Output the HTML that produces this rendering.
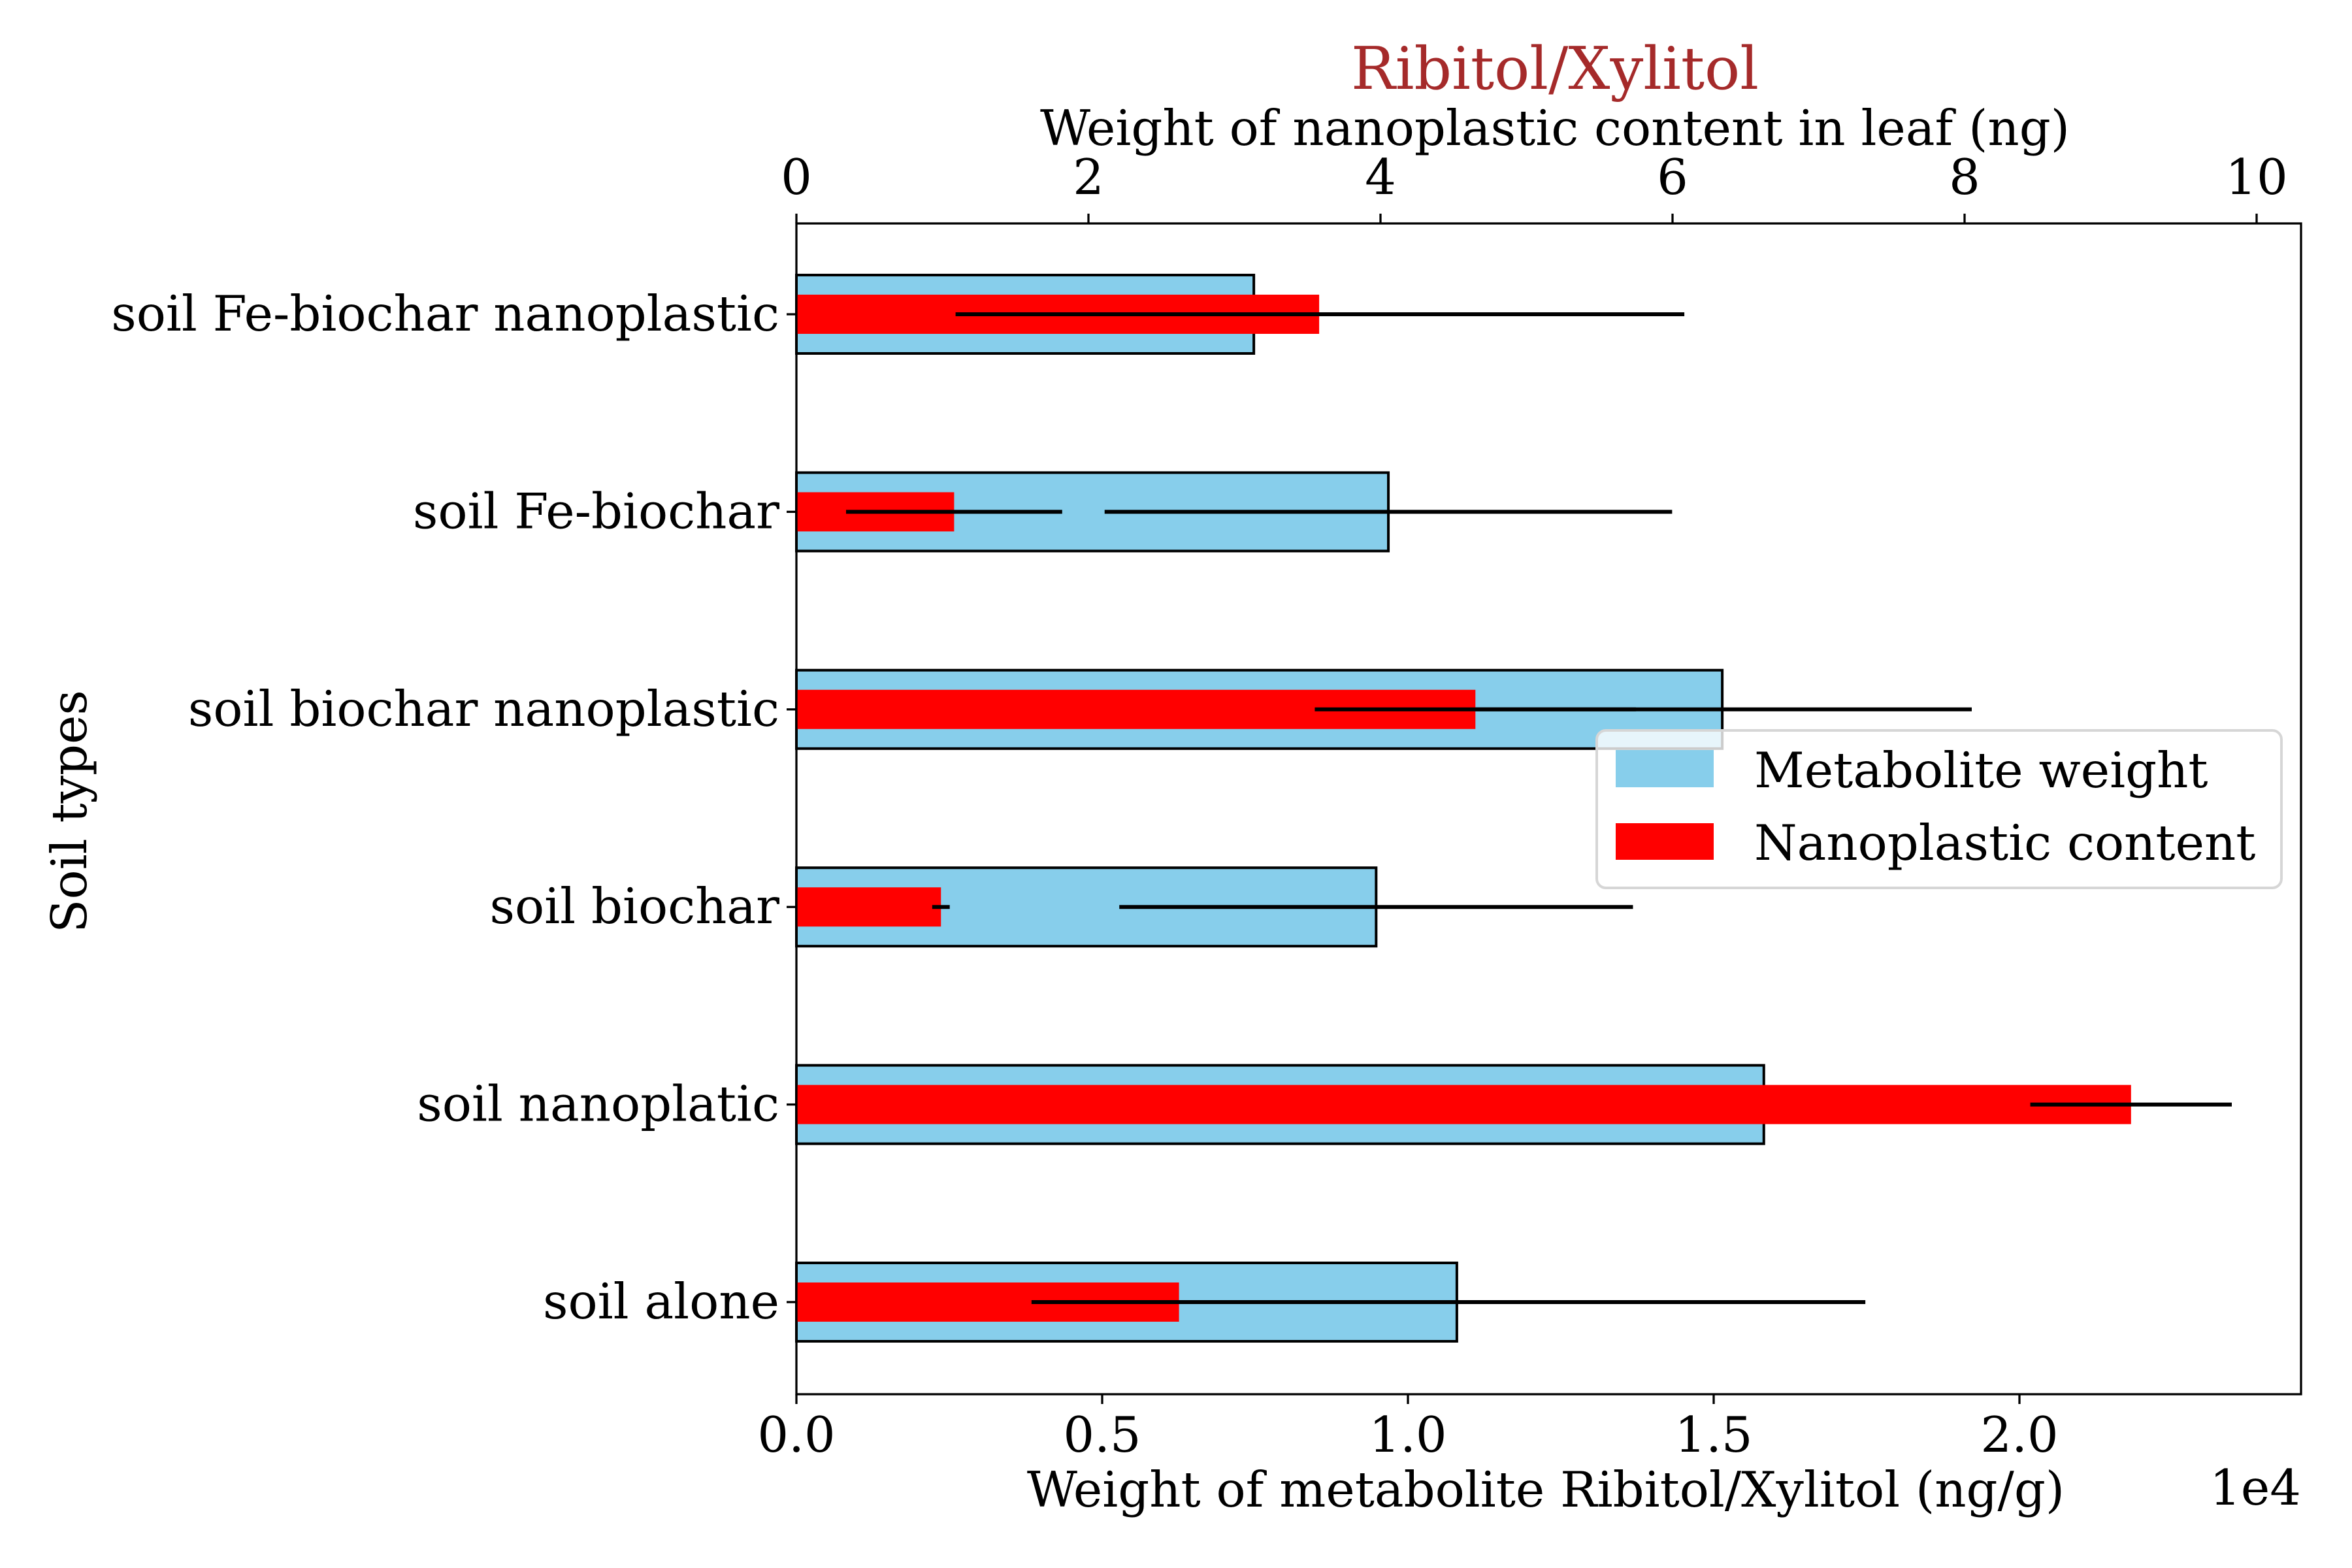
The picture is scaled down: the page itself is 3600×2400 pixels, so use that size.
<!DOCTYPE html>
<html><head><meta charset="utf-8"><style>
html,body{margin:0;padding:0;background:#fff;}
svg{display:block;font-family:"DejaVu Serif","Liberation Serif",serif;}
</style></head><body>
<svg id="chart" width="3600" height="2400" viewBox="0 0 3600 2400" xmlns="http://www.w3.org/2000/svg">
<rect x="0" y="0" width="3600" height="2400" fill="#fff"/>
<g id="plot"></g>
<text x="2380" y="136" font-size="90" fill="#a52a2a" text-anchor="middle">Ribitol/Xylitol</text>
<text x="2380" y="222" font-size="75" text-anchor="middle">Weight of nanoplastic content in leaf (ng)</text>
<text x="2366" y="2306" font-size="75" text-anchor="middle">Weight of metabolite Ribitol/Xylitol (ng/g)</text>
<text x="3522" y="2303" font-size="75" text-anchor="end">1e4</text>
<text x="0" y="0" font-size="75" text-anchor="middle" transform="translate(132,1242) rotate(-90)">Soil types</text>
<g>
<rect x="2444" y="1118" width="1048" height="241" rx="14" fill="#fff" fill-opacity="0.8" stroke="#d6d6d6" stroke-width="4"/>
<rect x="2473" y="1148" width="150" height="57" fill="#87ceeb"/>
<text x="2685" y="1205" font-size="75">Metabolite weight</text>
<rect x="2473" y="1260" width="150" height="56" fill="#ff0000"/>
<text x="2685" y="1316" font-size="75">Nanoplastic content</text>
</g>
</svg>
<script>
const categories = ["soil alone","soil nanoplatic","soil biochar","soil biochar nanoplastic","soil Fe-biochar","soil Fe-biochar nanoplastic"];
const metaboliteValues = [10800,15820,9480,15140,9680,7480];
const metaboliteErrors = [6680,740,4200,4080,4640,7040];
const nanoValues = [2.62,9.14,0.99,4.65,1.08,3.58];
const nanoErrors = [1.01,0.69,0.06,1.10,0.74,2.49];
const bottomTicks = [0,5000,10000,15000,20000];
const bottomTickLabels = ["0.0","0.5","1.0","1.5","2.0"];
const topTicks = [0,2,4,6,8,10];

const NS="http://www.w3.org/2000/svg";
const L=1219,R=3522,T=342,B=2134;
const xm=v=>L+v/10000*936;
const xn=v=>L+v*223.5;
const yc=i=>1993-i*302.4;
const g=document.getElementById('plot');
function mk(tag,attrs){const e=document.createElementNS(NS,tag);for(const k in attrs)e.setAttribute(k,attrs[k]);g.appendChild(e);return e;}

categories.forEach((c,i)=>{
  const y=yc(i);
  const b=mk('rect',{x:L,y:y-60,width:xm(metaboliteValues[i])-L,height:120,fill:'#87ceeb',stroke:'#000','stroke-width':4});
  
  
  const e1=mk('line',{x1:xm(metaboliteValues[i]-metaboliteErrors[i]),x2:xm(metaboliteValues[i]+metaboliteErrors[i]),y1:y,y2:y,stroke:'#000','stroke-width':6});
  
  
});
categories.forEach((c,i)=>{
  const y=yc(i);
  const r=mk('rect',{x:L,y:y-30,width:xn(nanoValues[i])-L,height:60,fill:'#ff0000'});
  
  
  const e2=mk('line',{x1:xn(nanoValues[i]-nanoErrors[i]),x2:xn(nanoValues[i]+nanoErrors[i]),y1:y,y2:y,stroke:'#000','stroke-width':6});
  
  
  const tk=mk('line',{x1:L-15,x2:L,y1:y,y2:y,stroke:'#000','stroke-width':3.3});
  
  
  const t=mk('text',{x:L-26,y:y+25,'font-size':75,'text-anchor':'end'});
  t.textContent=c;
  
  
});
bottomTicks.forEach((v,i)=>{
  const x=xm(v);
  const tk=mk('line',{x1:x,x2:x,y1:B,y2:B+15,stroke:'#000','stroke-width':3.3});
  
  
  const t=mk('text',{x:x,y:2222,'font-size':75,'text-anchor':'middle'});
  t.textContent=bottomTickLabels[i];
  
  
});
topTicks.forEach(v=>{
  const x=xn(v);
  const tk=mk('line',{x1:x,x2:x,y1:T,y2:T-15,stroke:'#000','stroke-width':3.3});
  
  
  const t=mk('text',{x:x,y:297,'font-size':75,'text-anchor':'middle'});
  t.textContent=String(v);
  
  
});
const frame=mk('rect',{x:L,y:T,width:R-L,height:B-T,fill:'none',stroke:'#000','stroke-width':3.3});


</script>
</body></html>
